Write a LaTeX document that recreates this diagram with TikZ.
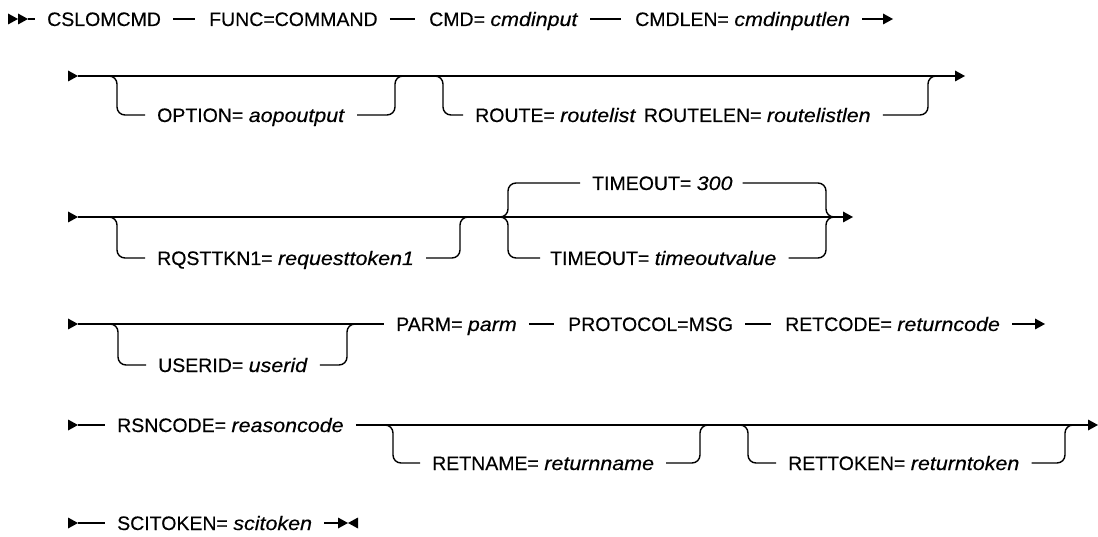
\documentclass[tikz,border=0pt]{standalone}
\usepackage{fontspec}
\setmainfont{Liberation Sans}[UprightFeatures={FakeBold=0.35},ItalicFeatures={FakeBold=0.35,FakeStretch=1.1}]
\newcommand\railtip[1]{\fill #1 -- ++(-10,-5.5) -- ++(0,11) -- cycle;}
\newcommand\railtipl[1]{\fill #1 -- ++(10,-5.5) -- ++(0,11) -- cycle;}
\begin{document}
\begin{tikzpicture}[x=1pt,y=-1pt,
  rail/.style={line width=1.4pt},
  br/.style={rail,rounded corners=8pt},
  gap/.style={rail,shorten <=12pt,shorten >=14pt},
  txt/.style={inner sep=0pt,anchor=west,font=\fontsize{19.5}{23}\selectfont,text height=14pt,text depth=0pt}]
\useasboundingbox (0,0) rectangle (1098,537);

% ---------- row 1
\coordinate (s1) at (28,19);
\railtip{(18,19)}
\railtip{(s1)}
\node[txt] (n1) at (47,19) {CSLOMCMD};
\node[txt] (n2) at (209,19) {FUNC=COMMAND};
\node[txt] (n3) at (429,19) {CMD= \textit{cmdinput}};
\node[txt] (n4) at (635,19) {CMDLEN= \textit{cmdinputlen}};
\coordinate (e1) at (893,19);
\draw[rail] (s1) -- ([xshift=-12pt]n1.west);
\draw[gap] (n1.east) -- (n2.west);
\draw[gap] (n2.east) -- (n3.west);
\draw[gap] (n3.east) -- (n4.west);
\draw[rail] ([xshift=12pt]n4.east) -- ([xshift=-9pt]e1);
\railtip{(e1)}

% ---------- row 2
\coordinate (s2) at (78,76);
\coordinate (e2) at (965,76);
\railtip{(s2)}
\draw[rail] (s2) -- ([xshift=-9pt]e2);
\railtip{(e2)}
\node[txt] (o1) at (157,115) {OPTION= \textit{aopoutput}};
\coordinate (o1l) at (107,76);
\coordinate (o1r) at (405,76);
\draw[br] (o1l) -- ++(10,0) |- ([xshift=-12pt]o1.west);
\draw[br] ([xshift=12pt]o1.east) -| ([xshift=-10pt]o1r) -- (o1r);
\node[txt] (o2) at (475,115) {ROUTE= \textit{routelist}\hspace{0.4em}ROUTELEN= \textit{routelistlen}};
\coordinate (o2l) at (433,76);
\coordinate (o2r) at (938,76);
\draw[br] (o2l) -- ++(10,0) |- ([xshift=-12pt]o2.west);
\draw[br] ([xshift=12pt]o2.east) -| ([xshift=-10pt]o2r) -- (o2r);

% ---------- row 3
\coordinate (s3) at (78,217);
\coordinate (e3) at (853,217);
\railtip{(s3)}
\draw[rail] (s3) -- ([xshift=-9pt]e3);
\railtip{(e3)}
\node[txt] (q1) at (157,258) {RQSTTKN1= \textit{requesttoken1}};
\coordinate (q1l) at (107,217);
\coordinate (q1r) at (470,217);
\draw[br] (q1l) -- ++(10,0) |- ([xshift=-12pt]q1.west);
\draw[br] ([xshift=12pt]q1.east) -| ([xshift=-10pt]q1r) -- (q1r);
\coordinate (c1) at (500,217);
\coordinate (c2) at (834,217);
\node[txt] (t1) at (592,183) {TIMEOUT= \textit{300}};
\node[txt] (t2) at (550,258) {TIMEOUT= \textit{timeoutvalue}};
\draw[br] (c1) -- ++(8,0) |- ([xshift=-12pt]t1.west);
\draw[br] (c1) -- ++(8,0) |- ([xshift=-10pt]t2.west);
\draw[br] ([xshift=10pt]t1.east) -| ([xshift=-8pt]c2) -- (c2);
\draw[br] ([xshift=12pt]t2.east) -| ([xshift=-8pt]c2) -- (c2);

% ---------- row 4
\coordinate (s4) at (78,324);
\railtip{(s4)}
\node[txt] (p1) at (396,324) {PARM= \textit{parm}};
\node[txt] (p2) at (568,324) {PROTOCOL=MSG};
\node[txt] (p3) at (785,324) {RETCODE= \textit{returncode}};
\draw[rail] (s4) -- ([xshift=-12pt]p1.west);
\node[txt] (u1) at (158,365) {USERID= \textit{userid}};
\coordinate (u1l) at (108,324);
\coordinate (u1r) at (357,324);
\draw[br] (u1l) -- ++(10,0) |- ([xshift=-12pt]u1.west);
\draw[br] ([xshift=12pt]u1.east) -| ([xshift=-10pt]u1r) -- (u1r);
\draw[gap] (p1.east) -- (p2.west);
\draw[gap] (p2.east) -- (p3.west);
\coordinate (e4) at (1045,324);
\draw[rail] ([xshift=12pt]p3.east) -- ([xshift=-9pt]e4);
\railtip{(e4)}

% ---------- row 5
\coordinate (s5) at (78,425);
\railtip{(s5)}
\node[txt] (r1) at (117,425) {RSNCODE= \textit{reasoncode}};
\draw[rail] (s5) -- ([xshift=-12pt]r1.west);
\coordinate (e5) at (1098,425);
\draw[rail] ([xshift=12pt]r1.east) -- ([xshift=-9pt]e5);
\railtip{(e5)}
\node[txt] (r2) at (432,463) {RETNAME= \textit{returnname}};
\coordinate (r2l) at (383,425);
\coordinate (r2r) at (710,425);
\draw[br] (r2l) -- ++(10,0) |- ([xshift=-12pt]r2.west);
\draw[br] ([xshift=12pt]r2.east) -| ([xshift=-10pt]r2r) -- (r2r);
\node[txt] (r3) at (788,463) {RETTOKEN= \textit{returntoken}};
\coordinate (r3l) at (738,425);
\coordinate (r3r) at (1075,425);
\draw[br] (r3l) -- ++(10,0) |- ([xshift=-12pt]r3.west);
\draw[br] ([xshift=12pt]r3.east) -| ([xshift=-10pt]r3r) -- (r3r);

% ---------- row 6
\coordinate (s6) at (78,523);
\railtip{(s6)}
\node[txt] (z1) at (117,523) {SCITOKEN= \textit{scitoken}};
\draw[rail] (s6) -- ([xshift=-12pt]z1.west);
\coordinate (e6) at (348,523);
\draw[rail] ([xshift=12pt]z1.east) -- ([xshift=-9pt]e6);
\railtip{(e6)}
\railtipl{(e6)}
\end{tikzpicture}
\end{document}
